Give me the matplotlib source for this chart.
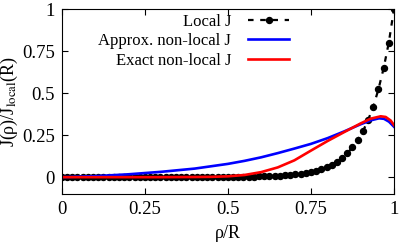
import matplotlib
matplotlib.use('Agg')
import matplotlib.pyplot as plt
import numpy as np

plt.rcParams['font.family'] = ['Liberation Serif', 'DejaVu Serif']
plt.rcParams['mathtext.fontset'] = 'stix'
plt.rcParams['font.size'] = 13

local_rho = np.arange(65) / 64
local_j = [0.0, 0.0, 0.0, 0.0, 0.0, 0.0, 0.0, 0.0,
           0.0, 0.0, 0.0, 0.0, 0.0, 0.0, 0.0, 0.0,
           0.0, 0.0, 0.0, 0.0, 0.0, 0.0, 0.0, 0.0,
           0.0, 0.0, 0.0, 0.0, 0.001, 0.001, 0.001, 0.001,
           0.001, 0.002, 0.002, 0.002, 0.003, 0.003, 0.004, 0.005,
           0.006, 0.007, 0.009, 0.011, 0.013, 0.016, 0.020, 0.025,
           0.031, 0.038, 0.047, 0.058, 0.073, 0.092, 0.115, 0.142,
           0.178, 0.220, 0.272, 0.339, 0.418, 0.522, 0.647, 0.800,
           1.0]

approx_rho = [0.0, 0.1, 0.2, 0.3, 0.4, 0.5, 0.55, 0.6, 0.65, 0.7, 0.75,
              0.8, 0.85, 0.9, 0.93, 0.955, 0.97, 0.985, 1.0]
approx_j = [0.0, 0.006, 0.017, 0.032, 0.051, 0.079, 0.097, 0.118, 0.143,
            0.170, 0.198, 0.232, 0.272, 0.315, 0.338, 0.350, 0.347, 0.330, 0.300]

exact_rho = [0.0, 0.3, 0.4, 0.45, 0.5, 0.55, 0.6, 0.65, 0.7, 0.75, 0.8,
             0.85, 0.9, 0.93, 0.96, 0.975, 0.99, 1.0]
exact_j = [0.0, 0.0, 0.001, 0.002, 0.005, 0.013, 0.030, 0.058, 0.100,
           0.158, 0.215, 0.268, 0.320, 0.348, 0.362, 0.358, 0.337, 0.310]

fig = plt.figure(figsize=(4.07, 2.44), dpi=100)
ax = fig.add_axes([0.152, 0.205, 0.816, 0.758])

ax.plot(local_rho, local_j, color='black', linestyle=(0, (2.5, 3)), linewidth=1.6,
        marker='o', markersize=4.3, label='Local J')
ax.plot(approx_rho, approx_j, color='#0000ff', linewidth=1.9,
        label='Approx. non-local J')
ax.plot(exact_rho, exact_j, color='#ff0000', linewidth=1.9,
        label='Exact non-local J')

ax.set_xlim(0, 1)
ax.set_ylim(-0.1, 1)
ax.set_xticks([0, 0.25, 0.5, 0.75, 1])
ax.set_xticklabels(['0', '0.25', '0.5', '0.75', '1'])
ax.set_yticks([0, 0.25, 0.5, 0.75, 1])
ax.set_yticklabels(['0', '0.25', '0.5', '0.75', '1'])
ax.tick_params(direction='in', length=4, top=True, right=True, pad=5,
               labelsize=13.5)
ax.set_xlabel('ρ/R', labelpad=5)
ax.set_ylabel(r'J(ρ)/J$_{\rm local}$(R)')
ax.yaxis.set_label_coords(-0.125, 0.5)

ax.legend(loc='upper right', bbox_to_anchor=(0.685, 0.975), frameon=False,
          markerfirst=False, handlelength=2.5, handletextpad=1.0,
          labelspacing=0.22, borderaxespad=0.0, borderpad=0.0, fontsize=12)

fig.savefig('out.png', dpi=100)
